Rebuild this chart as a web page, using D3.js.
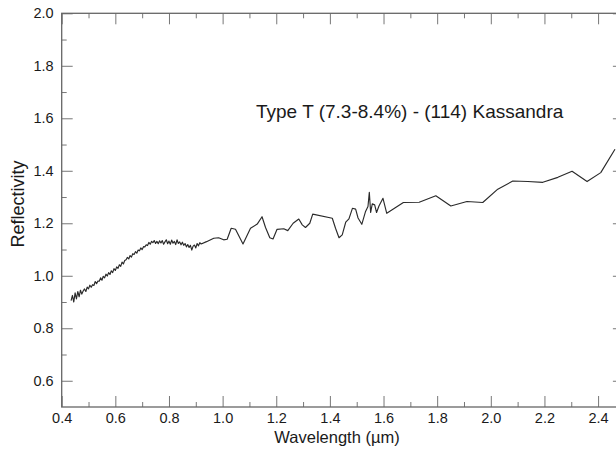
<!DOCTYPE html>
<html><head><meta charset="utf-8">
<script src="https://cdn.jsdelivr.net/npm/d3@7"></script>
<style>body{margin:0;background:#fff}svg{display:block;font-family:"Liberation Sans",Arial,sans-serif}</style>
</head><body><svg id="c" width="616" height="450"></svg>
<script>
const wavelength = [0.435,0.440,0.445,0.450,0.455,0.460,0.465,0.470,0.475,0.480,0.485,0.490,0.495,0.500,0.505,0.510,0.515,0.520,0.525,0.530,0.535,0.540,0.545,0.550,0.555,0.560,0.565,0.570,0.575,0.580,0.585,0.590,0.595,0.600,0.605,0.610,0.615,0.620,0.625,0.630,0.635,0.640,0.645,0.650,0.655,0.660,0.665,0.670,0.675,0.680,0.685,0.690,0.695,0.700,0.705,0.710,0.715,0.720,0.725,0.730,0.735,0.740,0.745,0.750,0.755,0.760,0.765,0.770,0.775,0.780,0.785,0.790,0.795,0.800,0.805,0.810,0.815,0.820,0.825,0.830,0.835,0.840,0.845,0.850,0.855,0.860,0.865,0.870,0.875,0.880,0.885,0.890,0.895,0.900,0.905,0.910,0.915,0.920,0.940,0.967,0.985,1.004,1.017,1.032,1.048,1.076,1.104,1.129,1.147,1.160,1.176,1.188,1.203,1.228,1.243,1.263,1.284,1.297,1.309,1.325,1.336,1.409,1.421,1.434,1.446,1.459,1.471,1.484,1.496,1.505,1.519,1.533,1.542,1.547,1.552,1.558,1.567,1.574,1.583,1.598,1.612,1.674,1.733,1.795,1.851,1.911,1.970,2.026,2.082,2.138,2.194,2.250,2.303,2.359,2.410,2.463];
const reflectivity = [0.905,0.925,0.900,0.935,0.912,0.940,0.920,0.945,0.930,0.942,0.950,0.940,0.957,0.950,0.964,0.956,0.966,0.963,0.978,0.970,0.980,0.979,0.992,0.983,0.998,0.992,1.006,0.999,1.012,1.005,1.019,1.012,1.027,1.020,1.034,1.028,1.042,1.036,1.052,1.045,1.058,1.061,1.070,1.064,1.077,1.071,1.084,1.081,1.092,1.086,1.098,1.095,1.106,1.100,1.111,1.110,1.118,1.115,1.127,1.120,1.131,1.126,1.134,1.123,1.131,1.122,1.133,1.125,1.134,1.120,1.129,1.137,1.122,1.132,1.120,1.136,1.124,1.131,1.119,1.137,1.123,1.129,1.118,1.128,1.116,1.123,1.110,1.119,1.108,1.116,1.098,1.113,1.117,1.106,1.123,1.114,1.126,1.121,1.130,1.143,1.145,1.137,1.139,1.181,1.177,1.121,1.181,1.197,1.225,1.184,1.145,1.140,1.177,1.179,1.172,1.200,1.216,1.194,1.184,1.200,1.235,1.219,1.181,1.145,1.156,1.204,1.217,1.257,1.254,1.220,1.196,1.245,1.264,1.318,1.241,1.274,1.270,1.241,1.266,1.295,1.238,1.279,1.280,1.305,1.266,1.283,1.279,1.330,1.361,1.359,1.356,1.375,1.398,1.359,1.393,1.482];
const xTicks = [0.4,0.6,0.8,1.0,1.2,1.4,1.6,1.8,2.0,2.2,2.4];
const yTicks = [0.6,0.8,1.0,1.2,1.4,1.6,1.8,2.0];
const title = "Type T (7.3-8.4%) - (114) Kassandra";

const svg = d3.select("#c");
const L = 61.7, R = 624.9, T = 13.3, B = 407;
const x = d3.scaleLinear().domain([0.4, 2.5]).range([L, R]);
const y = d3.scaleLinear().domain([0.5, 2.0]).range([B, T]);
const axisCol = "#666", tickCol = "#777", textCol = "#1a1a1a";

const xMinor = d3.range(0.5, 2.5, 0.2).map(v => +v.toFixed(2));
const yMinor = d3.range(0.5, 2.0, 0.1).map(v => +v.toFixed(2)).filter(v => !yTicks.some(t => Math.abs(t - v) < 1e-6) && v > 0.5);

function styleAxis(g) {
  g.select(".domain").remove();
  g.selectAll(".tick line").attr("stroke", tickCol).attr("stroke-width", 1);
  g.selectAll(".tick text").attr("fill", textCol).style("font-size", "14.5px").style("font-family", '"Liberation Sans",Arial,sans-serif');
}
// bottom
svg.append("g").attr("transform", `translate(0,${B})`)
  .call(d3.axisBottom(x).tickValues(xTicks).tickFormat(d3.format(".1f")).tickSizeInner(-11).tickSizeOuter(0).tickPadding(6))
  .call(styleAxis);
svg.append("g").attr("transform", `translate(0,${B})`)
  .call(d3.axisBottom(x).tickValues(xMinor).tickFormat("").tickSizeInner(-5).tickSizeOuter(0))
  .call(styleAxis);
// top
svg.append("g").attr("transform", `translate(0,${T})`)
  .call(d3.axisTop(x).tickValues(xTicks).tickFormat("").tickSizeInner(-11).tickSizeOuter(0))
  .call(styleAxis);
svg.append("g").attr("transform", `translate(0,${T})`)
  .call(d3.axisTop(x).tickValues(xMinor).tickFormat("").tickSizeInner(-5).tickSizeOuter(0))
  .call(styleAxis);
// left
svg.append("g").attr("transform", `translate(${L},0)`)
  .call(d3.axisLeft(y).tickValues(yTicks).tickFormat(d3.format(".1f")).tickSizeInner(-11).tickSizeOuter(0).tickPadding(8))
  .call(styleAxis);
svg.append("g").attr("transform", `translate(${L},0)`)
  .call(d3.axisLeft(y).tickValues(yMinor).tickFormat("").tickSizeInner(-5).tickSizeOuter(0))
  .call(styleAxis);
// right
svg.append("g").attr("transform", `translate(${R},0)`)
  .call(d3.axisRight(y).tickValues(yTicks).tickFormat("").tickSizeInner(-12).tickSizeOuter(0))
  .call(styleAxis);
svg.append("g").attr("transform", `translate(${R},0)`)
  .call(d3.axisRight(y).tickValues(yMinor).tickFormat("").tickSizeInner(-5).tickSizeOuter(0))
  .call(styleAxis);

// frame
svg.append("rect").attr("x", L).attr("y", T).attr("width", R - L).attr("height", B - T)
  .attr("fill", "none").attr("stroke", axisCol).attr("stroke-width", 1.3);

const data = wavelength.map((w, i) => [w, reflectivity[i]]);
svg.append("path").datum(data)
  .attr("fill", "none").attr("stroke", "#2a2a2a").attr("stroke-width", 1.15).attr("stroke-linejoin", "round")
  .attr("d", d3.line().x(d => x(d[0])).y(d => y(d[1])));

svg.append("text").attr("x", 256).attr("y", 118).attr("fill", textCol)
  .style("font-size", "19px").text(title);
svg.append("text").attr("x", 337).attr("y", 443).attr("text-anchor", "middle").attr("fill", textCol)
  .style("font-size", "16.5px").text("Wavelength (\u00b5m)");
svg.append("text").attr("transform", "translate(24,204) rotate(-90)").attr("text-anchor", "middle").attr("fill", textCol)
  .style("font-size", "18px").text("Reflectivity");
</script></body></html>
